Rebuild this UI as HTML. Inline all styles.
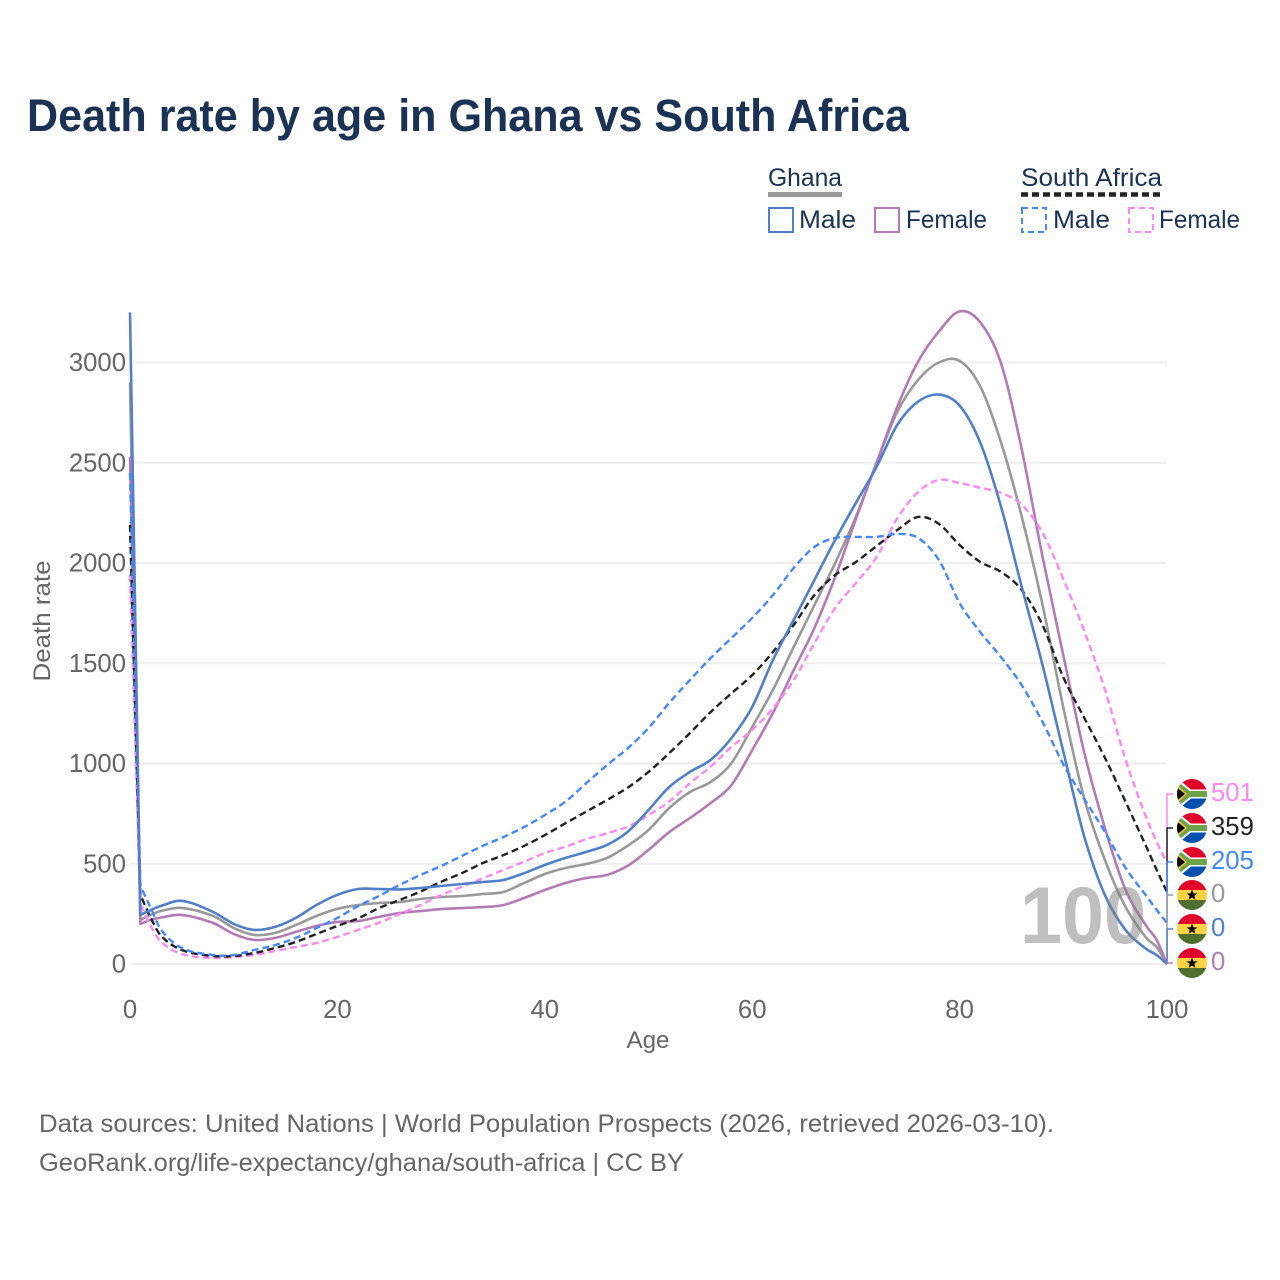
<!DOCTYPE html>
<html lang="en">
<head>
<meta charset="utf-8">
<title>Death rate by age in Ghana vs South Africa</title>
<style>
html,body{margin:0;padding:0;background:#fff}
svg{display:block}
text{font-family:"Liberation Sans",sans-serif}
</style>
</head>
<body>
<svg id="chart" xmlns="http://www.w3.org/2000/svg" width="1280" height="1280" viewBox="0 0 1280 1280">
<defs>
<clipPath id="flag-clip"><circle cx="0" cy="0" r="15"/></clipPath>
<g id="sa-flag">
<g clip-path="url(#flag-clip)">
<rect x="-15" y="-15" width="30" height="15" fill="#e0002a"/>
<rect x="-15" y="0" width="30" height="15" fill="#0050b0"/>
<path d="M-15,-16 L-1,-4.5 H15 V4.5 H-1 L-15,16 Z" fill="#fff"/>
<path d="M-15,-13 L-2,-3 H15 V3 H-2 L-15,13 Z" fill="#6ea34a"/>
<path d="M-15,-9 L-5,0 L-15,9 Z" fill="#f5c23c"/>
<path d="M-15,-6.5 L-7,0 L-15,6.5 Z" fill="#000"/>
</g>
</g>
<g id="gh-flag">
<g clip-path="url(#flag-clip)">
<rect x="-15" y="-15" width="30" height="10" fill="#e0002a"/>
<rect x="-15" y="-5" width="30" height="10" fill="#fdd344"/>
<rect x="-15" y="5" width="30" height="10" fill="#4f6f2e"/>
<path d="M0,-5.5 L1.5,-1.6 L5.4,-1.6 L2.3,0.9 L3.4,4.8 L0,2.5 L-3.4,4.8 L-2.3,0.9 L-5.4,-1.6 L-1.5,-1.6 Z" fill="#000"/>
</g>
</g>
</defs>

<text x="27" y="131" font-size="45" font-weight="700" fill="#1a3354" textLength="882" lengthAdjust="spacingAndGlyphs">Death rate by age in Ghana vs South Africa</text>

<g>
<text x="768" y="186" font-size="25" fill="#1a3354" textLength="74" lengthAdjust="spacingAndGlyphs">Ghana</text>
<rect x="768" y="192" width="74" height="5" fill="#999"/>
<rect x="769" y="208" width="24" height="24" fill="none" stroke="#5080c8" stroke-width="2"/>
<text x="799" y="228" font-size="25" fill="#1a3354" textLength="57" lengthAdjust="spacingAndGlyphs">Male</text>
<rect x="875" y="208" width="24" height="24" fill="none" stroke="#b47ab5" stroke-width="2"/>
<text x="906" y="228" font-size="25" fill="#1a3354" textLength="81" lengthAdjust="spacingAndGlyphs">Female</text>
<text x="1021" y="186" font-size="25" fill="#1a3354" textLength="141" lengthAdjust="spacingAndGlyphs">South Africa</text>
<line x1="1021" y1="194.5" x2="1162" y2="194.5" stroke="#222" stroke-width="4.5" stroke-dasharray="7 4"/>
<rect x="1022" y="208" width="24" height="24" fill="none" stroke="#4488ff" stroke-width="2" stroke-dasharray="6 4"/>
<text x="1053" y="228" font-size="25" fill="#1a3354" textLength="57" lengthAdjust="spacingAndGlyphs">Male</text>
<rect x="1129" y="208" width="24" height="24" fill="none" stroke="#ff88f5" stroke-width="2" stroke-dasharray="6 4"/>
<text x="1159" y="228" font-size="25" fill="#1a3354" textLength="81" lengthAdjust="spacingAndGlyphs">Female</text>
</g>

<g id="grid"></g>
<g id="yticks"></g>
<g id="xticks"></g>
<text transform="translate(50,621) rotate(-90)" text-anchor="middle" font-size="24" fill="#666" textLength="121" lengthAdjust="spacingAndGlyphs">Death rate</text>
<text x="648" y="1048" text-anchor="middle" font-size="24" fill="#666" textLength="43" lengthAdjust="spacingAndGlyphs">Age</text>

<g id="series"></g>
<text x="1020" y="943" font-size="81" font-weight="700" fill="#808080" fill-opacity="0.5" textLength="126" lengthAdjust="spacingAndGlyphs">100</text>
<g id="endlabels"></g>

<text x="39" y="1132" font-size="25" fill="#666" textLength="1015" lengthAdjust="spacingAndGlyphs">Data sources: United Nations | World Population Prospects (2026, retrieved 2026-03-10).</text>
<text x="39" y="1171" font-size="25" fill="#666" textLength="645" lengthAdjust="spacingAndGlyphs">GeoRank.org/life-expectancy/ghana/south-africa | CC BY</text>

<script>
const ages = [0,1,2,3,5,8,10,12,14,16,18,20,22,24,26,28,30,32,34,36,38,40,42,44,46,48,50,52,54,56,58,60,62,64,66,68,70,72,74,76,78,80,82,84,86,88,90,92,94,96,98,99,100];
const ghanaBoth = [2900,220,245,265,280,240,180,145,155,195,240,275,294,304,309,324,334,339,349,359,404,449,479,499,529,590,668,778,858,908,1002,1182,1367,1581,1790,2000,2230,2500,2755,2913,3000,3008,2880,2600,2230,1790,1280,830,520,285,130,85,0];
const ghanaMale = [3250,245,270,290,315,260,200,170,185,230,295,345,374,374,372,379,389,399,409,419,453,494,529,559,594,660,768,883,958,1018,1127,1282,1516,1716,1915,2115,2300,2480,2690,2805,2840,2785,2600,2280,1880,1490,1060,640,345,170,75,45,0];
const ghanaFemale = [2530,200,220,232,245,205,150,120,130,160,190,210,214,235,254,264,274,279,284,294,329,369,404,429,444,490,569,658,728,803,893,1067,1252,1466,1676,1930,2220,2500,2780,3005,3155,3255,3200,2995,2565,2030,1540,1060,680,370,190,120,0];
const saBoth = [2190,345,230,140,70,40,40,55,80,110,150,190,228,279,319,361,410,453,503,543,589,643,702,760,818,880,958,1052,1152,1257,1350,1441,1556,1691,1840,1940,2005,2085,2165,2230,2195,2090,2005,1955,1865,1690,1430,1230,1030,810,585,470,359];
const saMale = [2450,390,280,170,80,45,45,70,95,130,180,230,289,339,394,444,489,539,589,633,683,743,810,902,992,1076,1177,1302,1417,1526,1626,1726,1840,1975,2080,2125,2130,2130,2145,2125,2015,1800,1655,1530,1390,1207,996,825,660,480,340,270,205];
const saFemale = [1940,300,190,110,50,30,35,45,65,85,105,135,170,206,249,294,344,385,427,469,510,553,585,623,652,685,743,810,902,985,1083,1167,1275,1417,1600,1775,1900,2030,2224,2354,2414,2399,2375,2350,2290,2150,1920,1663,1370,1020,730,610,501];
const yTicks = [0,500,1000,1500,2000,2500,3000];
const xTicks = [0,20,40,60,80,100];
const endGhanaBoth = "0";
const endGhanaMale = "0";
const endGhanaFemale = "0";
const endSaBoth = "359";
const endSaMale = "205";
const endSaFemale = "501";

const NS = "http://www.w3.org/2000/svg";
const xScale = a => 130 + a * 10.37;
const yScale = v => 964 - v * 0.2005;

function mk(tag, attrs, parent) {
  const el = document.createElementNS(NS, tag);
  for (const k in attrs) el.setAttribute(k, attrs[k]);
  parent.appendChild(el);
  return el;
}

function linePath(values) {
  const p = values.map((v, i) => [xScale(ages[i]), yScale(v)]);
  let d = "M" + p[0][0].toFixed(1) + "," + p[0][1].toFixed(1);
  d += "L" + p[1][0].toFixed(1) + "," + p[1][1].toFixed(1);
  for (let i = 1; i < p.length - 1; i++) {
    const a = p[Math.max(i - 1, 1)], b = p[i], c = p[i + 1], e = p[Math.min(i + 2, p.length - 1)];
    const h = c[0] - b[0];
    const s1 = (c[1] - a[1]) / ((c[0] - a[0]) || 1);
    const s2 = (e[1] - b[1]) / ((e[0] - b[0]) || 1);
    d += "C" + (b[0] + h / 3).toFixed(1) + "," + (b[1] + s1 * h / 3).toFixed(1) + " " +
         (c[0] - h / 3).toFixed(1) + "," + (c[1] - s2 * h / 3).toFixed(1) + " " +
         c[0].toFixed(1) + "," + c[1].toFixed(1);
  }
  return d;
}

const grid = document.getElementById("grid");
const yG = document.getElementById("yticks");
const xG = document.getElementById("xticks");
yTicks.forEach(t => {
  const ln = mk("line", {x1: 130, x2: 1167, y1: yScale(t), y2: yScale(t), stroke: "#eeeeee", "stroke-width": 2}, grid);
  
  
  const tx = mk("text", {x: 126, y: yScale(t) + 8.5, "text-anchor": "end", "font-size": 25.7, fill: "#666"}, yG);
  
  
  tx.textContent = t;
});
xTicks.forEach(t => {
  const tx = mk("text", {x: xScale(t), y: 1018, "text-anchor": "middle", "font-size": 25.7, fill: "#666"}, xG);
  
  
  tx.textContent = t;
});

const seriesG = document.getElementById("series");
const sGB = mk("path", {d: linePath(ghanaBoth), fill: "none", stroke: "#999999", "stroke-width": 2.6, "stroke-linejoin": "round"}, seriesG);


const sGF = mk("path", {d: linePath(ghanaFemale), fill: "none", stroke: "#b47ab5", "stroke-width": 2.6, "stroke-linejoin": "round"}, seriesG);


const sSF = mk("path", {d: linePath(saFemale), fill: "none", stroke: "#ff88f5", "stroke-width": 2.4, "stroke-dasharray": "7 4"}, seriesG);


const sSB = mk("path", {d: linePath(saBoth), fill: "none", stroke: "#222222", "stroke-width": 2.4, "stroke-dasharray": "7 4"}, seriesG);


const sSM = mk("path", {d: linePath(saMale), fill: "none", stroke: "#4488ff", "stroke-width": 2.4, "stroke-dasharray": "7 4"}, seriesG);


const sGM = mk("path", {d: linePath(ghanaMale), fill: "none", stroke: "#5080c8", "stroke-width": 2.6, "stroke-linejoin": "round"}, seriesG);



const endG = document.getElementById("endlabels");
function endLabel(labelY, lastValue, text, color, flag, name) {
  const y0 = yScale(lastValue);
  const conn = mk("path", {d: "M1167," + y0.toFixed(1) + "V" + labelY + "H1173", fill: "none", stroke: color, "stroke-width": 1.5}, endG);
  
  
  const f = mk("use", {href: "#" + flag, transform: "translate(1192," + labelY + ")"}, endG);
  
  
  const t = mk("text", {x: 1211, y: labelY + 7, "font-size": 25.7, fill: color}, endG);
  
  
  t.textContent = text;
}
endLabel(794, saFemale[saFemale.length - 1], endSaFemale, "#ff88f5", "sa-flag", "south-africa-female");
endLabel(828, saBoth[saBoth.length - 1], endSaBoth, "#222222", "sa-flag", "south-africa-both");
endLabel(862, saMale[saMale.length - 1], endSaMale, "#4488ff", "sa-flag", "south-africa-male");
endLabel(895, ghanaBoth[ghanaBoth.length - 1], endGhanaBoth, "#999999", "gh-flag", "ghana-both");
endLabel(929, ghanaMale[ghanaMale.length - 1], endGhanaMale, "#5080c8", "gh-flag", "ghana-male");
endLabel(963, ghanaFemale[ghanaFemale.length - 1], endGhanaFemale, "#b47ab5", "gh-flag", "ghana-female");
</script>
</svg>
</body>
</html>
